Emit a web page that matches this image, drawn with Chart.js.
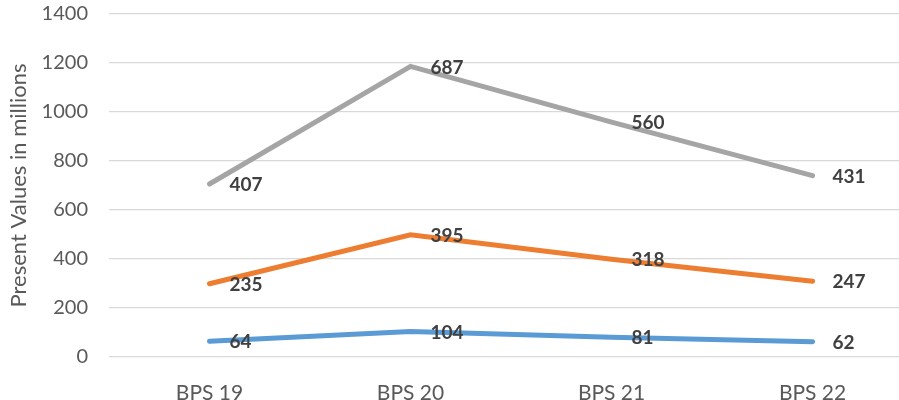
<!DOCTYPE html>
<html><head><meta charset="utf-8">
<script src="https://cdn.jsdelivr.net/npm/chart.js@4/dist/chart.umd.min.js"></script>
<style>html,body{margin:0;padding:0;background:#fff}#wrap{width:899px;height:400px}</style>
</head><body><div id="wrap"><canvas id="c"></canvas></div>
<script>
const categories = ["BPS 19", "BPS 20", "BPS 21", "BPS 22"];
const seriesBlue = [64, 104, 81, 62];
const seriesOrange = [235, 395, 318, 247];
const seriesGray = [407, 687, 560, 431];
const yTicks = [0, 200, 400, 600, 800, 1000, 1200, 1400];
const yTitle = "Present Values in millions";

const toXY = arr => arr.map((v, i) => ({x: i, y: v}));

const labelPlugin = {
  id: 'valLabels',
  afterDatasetsDraw(chart) {
    const ctx = chart.ctx;
    ctx.save();
    ctx.font = 'bold 19px Lato';
    ctx.fillStyle = '#404040';
    ctx.textAlign = 'left';
    ctx.textBaseline = 'middle';
    chart.data.datasets.forEach((ds, di) => {
      const meta = chart.getDatasetMeta(di);
      meta.data.forEach((pt, i) => {
        ctx.fillText(String(ds.data[i].y), pt.x + 20, pt.y + 1);
      });
    });
    ctx.restore();
  }
};

new Chart(document.getElementById('c'), {
  type: 'line',
  data: {
    datasets: [
      {label: 'A', data: toXY(seriesBlue), borderColor: '#5B9BD5', backgroundColor: '#5B9BD5'},
      {label: 'B', data: toXY(seriesOrange), borderColor: '#ED7D31', backgroundColor: '#ED7D31'},
      {label: 'C', data: toXY(seriesGray), borderColor: '#A5A5A5', backgroundColor: '#A5A5A5'}
    ]
  },
  options: {
    responsive: true,
    maintainAspectRatio: false,
    animation: false,
    datasets: {line: {borderWidth: 5, pointRadius: 0, borderCapStyle: 'round', borderJoinStyle: 'miter', tension: 0, fill: false}},
    layout: {padding: {top: 14, right: 0, left: 0, bottom: 0}},
    plugins: {legend: {display: false}, tooltip: {enabled: false}},
    scales: {
      x: {
        type: 'linear', min: -0.5, max: 3.43,
        grid: {display: false}, border: {display: false},
        afterBuildTicks: s => { s.ticks = categories.map((c, i) => ({value: i})); },
        afterFit: s => { s.height = 43; s.paddingTop = 0; s.paddingBottom = 0; },
        ticks: {autoSkip: false, maxRotation: 0, padding: 16, color: '#595959', font: {family: 'Lato', size: 21},
          callback: v => categories[v]}
      },
      y: {
        stacked: true, min: 0, max: 1400,
        afterBuildTicks: s => { s.ticks = yTicks.map(v => ({value: v})); },
        afterFit: s => { s.width = 109; s.paddingTop = 0; s.paddingBottom = 0; },
        grid: {color: '#d9d9d9', lineWidth: 1.3, drawTicks: false}, border: {display: false},
        ticks: {padding: 21, color: '#595959', font: {family: 'Lato', size: 20}, callback: v => String(v)},
        title: {display: true, text: yTitle, color: '#595959', font: {family: 'Lato', size: 22}, padding: {top: 6, bottom: 0}}
      }
    }
  },
  plugins: [labelPlugin]
});
</script></body></html>
